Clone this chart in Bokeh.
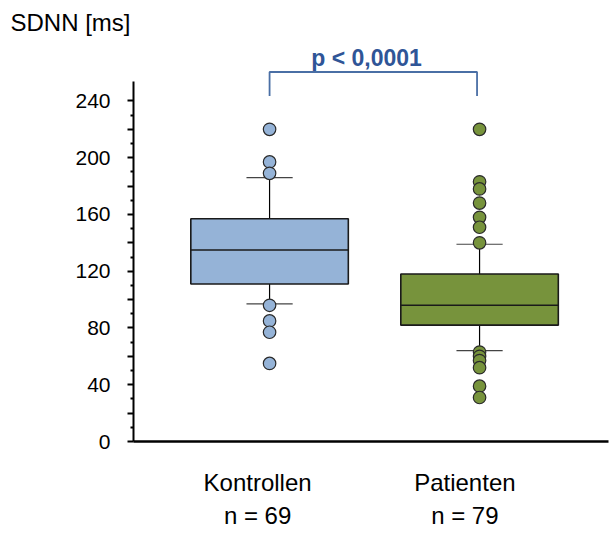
from bokeh.plotting import figure
from bokeh.models import Range1d, FixedTicker
from bokeh.embed import file_html
from bokeh.resources import INLINE

# ---- data ----
categories = ["Kontrollen", "Patienten"]
n_labels = ["n = 69", "n = 79"]
q1 = [111, 82]
median = [135, 96]
q3 = [157, 118]
whisker_low = [97, 64]
whisker_high = [186, 139]
outliers_kontrollen = [220, 197, 189, 96, 85, 77, 55]
outliers_patienten = [220, 183, 178, 168, 158, 151, 140, 63, 60, 57, 52, 39, 31]
y_ticks = [0, 20, 40, 60, 80, 100, 120, 140, 160, 180, 200, 220, 240]
y_minor = [10, 30, 50, 70, 90, 110, 130, 150, 170, 190, 210, 230]
p_text = "p < 0,0001"
y_title = "SDNN [ms]"

fill_colors = ["#95B3D7", "#77933C"]
xs = [1, 2]
label_x = [0.943, 1.93]
box_w = 0.75
cap_w = 0.22
FONT = "Liberation Sans"

p = figure(width=609, height=533, output_backend="svg", toolbar_location=None,
           title=y_title, x_range=Range1d(0.352, 2.614), y_range=Range1d(0, 282.6),
           min_border_left=133, min_border_right=1, min_border_top=40,
           min_border_bottom=92)
p.outline_line_color = None
p.grid.visible = False
p.background_fill_color = "white"
p.border_fill_color = "white"

# title (y axis name, top left)
p.title.align = "left"
p.title.offset = -123
p.title.standoff = 10
p.title.text_font = FONT
p.title.text_font_size = "24px"
p.title.text_font_style = "normal"
p.title.text_color = "black"

# y axis
ya = p.yaxis[0]
ya.ticker = FixedTicker(ticks=y_ticks, minor_ticks=y_minor)
ya.major_label_overrides = {t: ("" if t % 40 else str(t)) for t in y_ticks}
ya.bounds = (0, 254)
ya.axis_line_width = 2
ya.axis_line_color = "black"
ya.major_tick_line_width = 2
ya.major_tick_line_color = "black"
ya.minor_tick_line_width = 2
ya.minor_tick_line_color = "black"
ya.major_tick_in = 0
ya.major_tick_out = 6
ya.minor_tick_in = 0
ya.minor_tick_out = 3
ya.major_label_standoff = 17
ya.major_label_text_font = FONT
ya.major_label_text_font_size = "21px"
ya.major_label_text_color = "black"

# x axis: baseline with the group names as two-line tick labels
xa = p.xaxis[0]
xa.ticker = FixedTicker(ticks=label_x, minor_ticks=[])
xa.major_label_overrides = {label_x[i]: categories[i] + "\n" + n_labels[i] for i in range(2)}
xa.major_tick_line_color = None
xa.minor_tick_line_color = None
xa.major_tick_in = 0
xa.major_tick_out = 0
xa.major_label_standoff = 27
xa.major_label_text_font = FONT
xa.major_label_text_font_size = "24px"
xa.major_label_text_color = "black"
xa.major_label_text_line_height = 1.25
xa.axis_line_width = 2.5
xa.axis_line_color = "black"

# whiskers
p.segment(x0=xs, x1=xs, y0=q3, y1=whisker_high, line_color="black", line_width=1.2)
p.segment(x0=xs, x1=xs, y0=q1, y1=whisker_low, line_color="black", line_width=1.2)

# boxes
p.vbar(x=xs, width=box_w, bottom=q1, top=q3, fill_color=fill_colors,
       line_color="#1a1a1a", line_width=1.6)
p.segment(x0=[x - box_w / 2 for x in xs], x1=[x + box_w / 2 for x in xs],
          y0=median, y1=median, line_color="#1a1a1a", line_width=1.6)

# caps
for i, x in enumerate(xs):
    p.segment(x0=[x - cap_w / 2, x - cap_w / 2], x1=[x + cap_w / 2, x + cap_w / 2],
              y0=[whisker_high[i], whisker_low[i]], y1=[whisker_high[i], whisker_low[i]],
              line_color="#444444", line_width=1.2)

# outliers
p.scatter(x=[xs[0]] * len(outliers_kontrollen), y=outliers_kontrollen, size=12.5,
          fill_color=fill_colors[0], line_color="#2a2a2a", line_width=1.2)
p.scatter(x=[xs[1]] * len(outliers_patienten), y=outliers_patienten, size=12.5,
          fill_color=fill_colors[1], line_color="#2a2a2a", line_width=1.2)

# significance bracket
p.line(x=[xs[0], xs[0], xs[1] - 0.012, xs[1] - 0.012], y=[243.5, 260.4, 260.4, 243.5],
       line_color="#4A6FA5", line_width=1.8)
p.text(x=[1.462], y=[270.0], text=[p_text], text_align="center",
       text_baseline="middle", text_font={"value": FONT}, text_font_size="23px",
       text_font_style="bold", text_color="#2F5597")

open("out.html", "w").write(file_html(p, INLINE))
